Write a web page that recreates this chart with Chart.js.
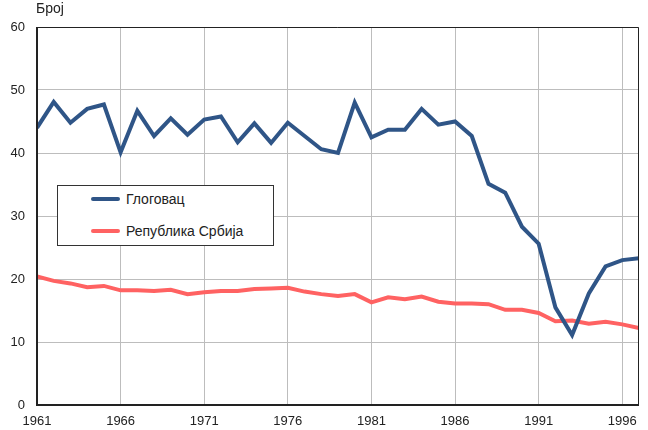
<!DOCTYPE html>
<html>
<head>
<meta charset="utf-8">
<script src="https://cdn.jsdelivr.net/npm/chart.js@4/dist/chart.umd.min.js"></script>
<style>
    body { margin: 0; background: #fff; }
    #wrap { position: relative; width: 648px; height: 430px; font-family: "Liberation Sans", Arial, sans-serif; color: #222; }
    #ytitle { position: absolute; left: 36px; top: 0px; font-size: 14px; }
    #legend { position: absolute; left: 57px; top: 185px; width: 217px; height: 61px; border: 1px solid #333; background: #fff; box-sizing: border-box; }
    #legend .item { position: absolute; left: 33px; font-size: 14px; white-space: nowrap; }
    #legend .item span { display: inline-block; width: 29px; height: 4px; border-radius: 2px; vertical-align: middle; margin-right: 6px; position: relative; top: -1px; }
</style>
</head>
<body>
<div id="wrap">
    <canvas id="chart" width="648" height="430"></canvas>
    <div id="ytitle">Број</div>
    <div id="legend"></div>
</div>
<script>
var years = [1961, 1962, 1963, 1964, 1965, 1966, 1967, 1968, 1969, 1970, 1971, 1972, 1973, 1974, 1975, 1976, 1977, 1978, 1979,
    1980, 1981, 1982, 1983, 1984, 1985, 1986, 1987, 1988, 1989, 1990, 1991, 1992, 1993, 1994, 1995, 1996, 1997];
var glogovac = [44.0, 48.1, 44.8, 47.0, 47.7, 40.1, 46.7, 42.7, 45.5, 42.9, 45.3, 45.8, 41.7, 44.7, 41.6, 44.8, 42.7, 40.6, 40.0,
    48.0, 42.5, 43.7, 43.7, 47.0, 44.5, 45.0, 42.7, 35.1, 33.7, 28.3, 25.6, 15.5, 11.1, 17.7, 22.0, 23.0, 23.3];
var srbija = [20.4, 19.7, 19.3, 18.7, 18.9, 18.2, 18.2, 18.1, 18.3, 17.6, 17.9, 18.1, 18.1, 18.4, 18.5, 18.6, 18.0, 17.6, 17.3,
    17.6, 16.3, 17.1, 16.8, 17.2, 16.4, 16.1, 16.1, 16.0, 15.1, 15.1, 14.6, 13.3, 13.4, 12.9, 13.2, 12.8, 12.2];
var xTicks = [1961, 1966, 1971, 1976, 1981, 1986, 1991, 1996];
var seriesNames = ["Глоговац", "Република Србија"];
var seriesColors = ["#2f5587", "#ff6262"];

function points(vals) {
    return vals.map(function (v, i) { return { x: years[i], y: v }; });
}

// dark frame round the plot area, thicker on the left and bottom
var framePlugin = {
    id: "frame",
    afterDraw: function (chart) {
        var a = chart.chartArea, ctx = chart.ctx;
        ctx.save();
        ctx.strokeStyle = "#222";
        ctx.lineWidth = 1;
        ctx.beginPath();
        ctx.moveTo(a.left, a.top + 0.5);
        ctx.lineTo(a.right - 0.5, a.top + 0.5);
        ctx.lineTo(a.right - 0.5, a.bottom);
        ctx.stroke();
        ctx.lineWidth = 2;
        ctx.beginPath();
        ctx.moveTo(a.left, a.top);
        ctx.lineTo(a.left, a.bottom);
        ctx.lineTo(a.right, a.bottom);
        ctx.stroke();
        ctx.restore();
    }
};

var ctx = document.getElementById("chart").getContext("2d");
var chart = new Chart(ctx, {
    type: "line",
    data: {
        datasets: [
            { label: seriesNames[0], data: points(glogovac), borderColor: seriesColors[0], backgroundColor: seriesColors[0], borderWidth: 4, pointRadius: 0, tension: 0 },
            { label: seriesNames[1], data: points(srbija), borderColor: seriesColors[1], backgroundColor: seriesColors[1], borderWidth: 4, pointRadius: 0, tension: 0 }
        ]
    },
    options: {
        responsive: false,
        animation: false,
        layout: { padding: { top: 27, right: 9, left: 0, bottom: 0 } },
        plugins: { legend: { display: false }, tooltip: { enabled: false } },
        scales: {
            x: {
                type: "linear",
                min: 1961,
                max: 1997,
                afterBuildTicks: function (scale) {
                    scale.ticks = xTicks.map(function (v) { return { value: v }; });
                },
                afterFit: function (scale) { scale.height = 25; },
                grid: { color: "#bdbdbd", lineWidth: 1, drawTicks: false },
                border: { display: false },
                ticks: {
                    padding: 9,
                    color: "#222",
                    font: { family: "Liberation Sans", size: 13 },
                    maxRotation: 0,
                    callback: function (v) { return String(v); }
                }
            },
            y: {
                min: 0,
                max: 60,
                afterFit: function (scale) { scale.width = 37; },
                grid: { color: "#bdbdbd", lineWidth: 1, drawTicks: false },
                border: { display: false },
                ticks: {
                    stepSize: 10,
                    padding: 12,
                    color: "#222",
                    font: { family: "Liberation Sans", size: 13 }
                }
            }
        }
    },
    plugins: [framePlugin]
});

var legend = document.getElementById("legend");
chart.data.datasets.forEach(function (ds, i) {
    var item = document.createElement("div");
    item.className = "item";
    item.style.top = (i === 0 ? 5 : 37) + "px";
    item.innerHTML = '<span style="background:' + ds.borderColor + '"></span>' + ds.label;
    legend.appendChild(item);
});
</script>
</body>
</html>
